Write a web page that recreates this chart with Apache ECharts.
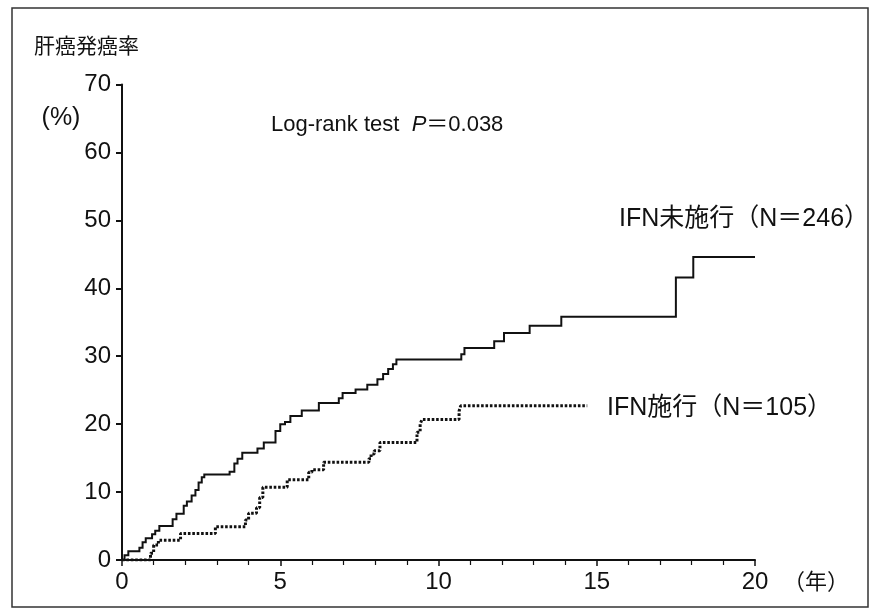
<!DOCTYPE html>
<html>
<head>
<meta charset="utf-8">
<script src="https://cdn.jsdelivr.net/npm/echarts@6/dist/echarts.min.js"></script>
<style>html,body{margin:0;padding:0;background:#fff}#c{width:877px;height:610px}</style>
</head>
<body>
<div id="c"></div>
<script>
// ---- data ----
const xTickLabels = [0, 5, 10, 15, 20];
const yTickLabels = [0, 10, 20, 30, 40, 50, 60, 70];

// IFN未施行 (N=246): time (years) of each step, cumulative incidence (%) after step
const noIfnTimes = [0, 0.08, 0.2, 0.55, 0.65, 0.75, 0.95, 1.05, 1.18, 1.6, 1.72, 1.95, 2.05, 2.2, 2.32, 2.42, 2.52, 2.6,
  3.4, 3.55, 3.65, 3.8, 4.28, 4.48, 4.85, 5.0, 5.15, 5.32, 5.68, 6.22, 6.85, 6.97, 7.38, 7.75, 8.07, 8.25, 8.41, 8.56,
  8.67, 10.72, 10.82, 11.76, 12.07, 12.88, 13.88, 17.5, 18.05, 20];
const noIfnRates = [0, 0.7, 1.3, 1.8, 2.6, 3.2, 3.8, 4.3, 5.0, 6.0, 6.8, 8.0, 8.6, 9.5, 10.3, 11.4, 12.2, 12.6,
  13.0, 14.2, 14.9, 15.8, 16.4, 17.3, 19.0, 20.0, 20.3, 21.2, 22.0, 23.1, 23.8, 24.6, 25.1, 25.8, 26.6, 27.4, 28.1, 28.8,
  29.5, 30.3, 31.2, 32.2, 33.4, 34.5, 35.8, 41.6, 44.6, 44.6];

// IFN施行 (N=105)
const ifnTimes = [0, 0.9, 1.0, 1.15, 1.85, 2.95, 3.9, 4.0, 4.25, 4.35, 4.45, 5.22, 5.9, 6.0, 6.37, 7.8, 7.87, 7.97,
  8.15, 9.32, 9.42, 9.48, 10.65, 10.7, 14.7];
const ifnRates = [0, 1.0, 2.2, 2.9, 3.9, 4.9, 5.9, 6.9, 7.7, 9.2, 10.7, 11.8, 12.9, 13.3, 14.4, 14.9, 15.6, 16.1,
  17.3, 18.8, 20.0, 20.7, 21.9, 22.7, 22.7];

const titleText = '肝癌発癌率';
const unitText = '(%)';
const xUnitText = '（年）';
const labelNoIfn = 'IFN未施行（N＝246）';
const labelIfn = 'IFN施行（N＝105）';

// ---- chart ----
const LATIN = "'Liberation Sans',Arial,sans-serif";
const MIXED = "'Liberation Sans','Noto Sans CJK JP',sans-serif";
const CJK = "'Noto Sans CJK JP',sans-serif";
const ink = '#111';

const pairs = (t, v) => t.map((x, i) => [x, v[i]]);

const chart = echarts.init(document.getElementById('c'), null, {renderer: 'canvas'});
chart.setOption({
  animation: false,
  backgroundColor: '#fff',
  grid: {left: 122, right: 122, top: 84.5, bottom: 50, containLabel: false},
  xAxis: {
    type: 'value', min: 0, max: 20, interval: 5,
    axisLine: {lineStyle: {color: ink, width: 2}},
    axisTick: {show: true, length: 6, lineStyle: {color: ink, width: 1.5}},
    minorTick: {show: true, splitNumber: 5, length: 5, lineStyle: {color: ink, width: 1.2}},
    splitLine: {show: false},
    axisLabel: {color: ink, fontSize: 24, fontFamily: LATIN, margin: 10,
      formatter: v => xTickLabels.includes(v) ? String(v) : ''}
  },
  yAxis: {
    type: 'value', min: 0, max: 70, interval: 10,
    axisLine: {lineStyle: {color: ink, width: 2}},
    axisTick: {show: true, length: 6, lineStyle: {color: ink, width: 2}},
    splitLine: {show: false},
    axisLabel: {color: ink, fontSize: 24, fontFamily: LATIN, margin: 11,
      formatter: v => yTickLabels.includes(v) ? String(v) : ''}
  },
  series: [
    {
      name: labelNoIfn, type: 'line', step: 'end', showSymbol: false, silent: true,
      data: pairs(noIfnTimes, noIfnRates),
      lineStyle: {color: ink, width: 2, cap: 'butt', join: 'miter'}
    },
    {
      name: labelIfn, type: 'line', step: 'end', showSymbol: false, silent: true,
      data: pairs(ifnTimes, ifnRates),
      lineStyle: {color: ink, width: 3, type: [2.6, 1.8], cap: 'butt'}
    }
  ],
  graphic: [
    {type: 'rect', shape: {x: 12, y: 8, width: 856, height: 599}, style: {fill: null, stroke: '#333', lineWidth: 1.5}, silent: true},
    {type: 'text', x: 34, y: 45, style: {text: titleText, font: '21px ' + CJK, fill: ink, verticalAlign: 'middle'}},
    {type: 'text', x: 61, y: 118, style: {text: unitText, font: '25px ' + LATIN, fill: ink, align: 'center', verticalAlign: 'middle'}},
    {type: 'text', x: 271, y: 125, style: {
      text: '{a|Log-rank test  }{p|P}{a|＝0.038}', verticalAlign: 'middle',
      rich: {
        a: {fontSize: 22, fontFamily: MIXED, fill: ink},
        p: {fontSize: 22, fontFamily: LATIN, fontStyle: 'italic', fill: ink}
      }
    }},
    {type: 'text', x: 619, y: 219, style: {text: labelNoIfn, font: '25px ' + MIXED, fill: ink, verticalAlign: 'middle'}},
    {type: 'text', x: 607, y: 408, style: {text: labelIfn, font: '25px ' + MIXED, fill: ink, verticalAlign: 'middle'}},
    {type: 'text', x: 816, y: 581, style: {text: xUnitText, font: '22px ' + CJK, fill: ink, align: 'center', verticalAlign: 'middle'}}
  ]
});
</script>
</body>
</html>
